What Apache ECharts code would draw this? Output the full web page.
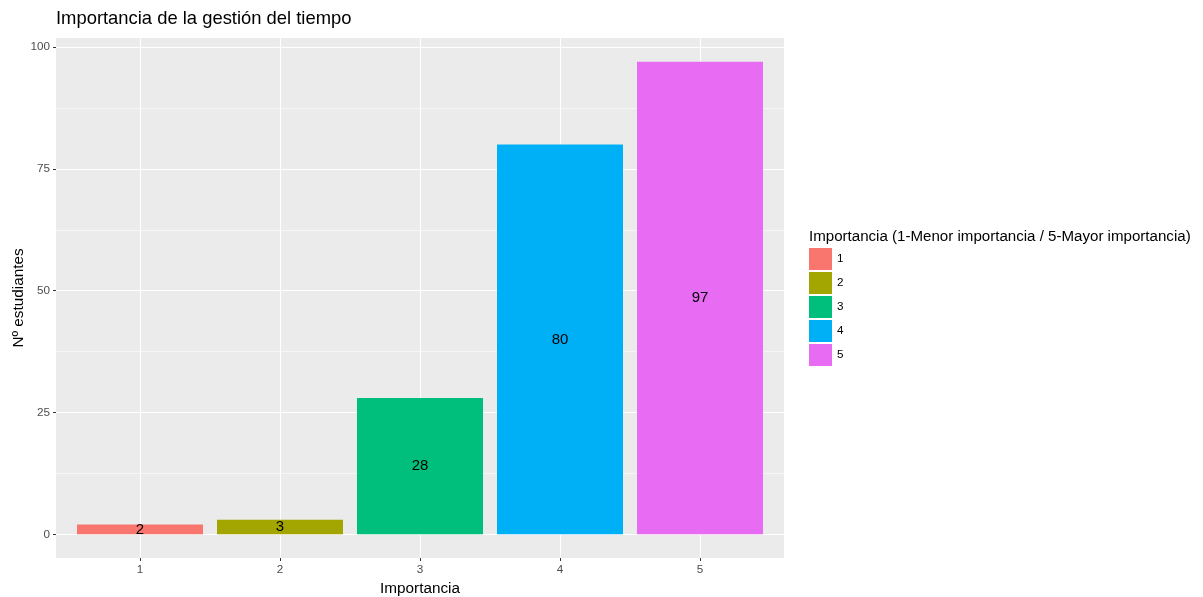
<!DOCTYPE html>
<html>
<head>
<meta charset="utf-8">
<script src="https://cdn.jsdelivr.net/npm/echarts@6/dist/echarts.min.js"></script>
<style>html,body{margin:0;padding:0;background:#fff}#c{width:1203px;height:597px}</style>
</head>
<body>
<div id="c"></div>
<script>
var categories = [1, 2, 3, 4, 5];
var values = [2, 3, 28, 80, 97];
var colors = ['#F8766D', '#A3A500', '#00BF7D', '#00B0F6', '#E76BF3'];
var yTicks = [0, 25, 50, 75, 100];
var yMinor = [12.5, 37.5, 62.5, 87.5];

var chart = echarts.init(document.getElementById('c'));
var font = 'Liberation Sans, Arial, sans-serif';
var series = categories.map(function (c, i) {
  return {
    name: String(c),
    type: 'bar',
    stack: 'all',
    barWidth: 126,
    xAxisIndex: 0,
    yAxisIndex: 0,
    itemStyle: { color: colors[i] },
    label: { show: true, position: 'inside', color: '#000', fontSize: 15, fontFamily: font,
      formatter: function (p) { return p.value[1]; } },
    data: [[c, values[i]]]
  };
});
series.push({ type: 'line', xAxisIndex: 0, yAxisIndex: 1, data: [], silent: true });

chart.setOption({
  animation: false,
  title: [
    { text: 'Importancia de la gestión del tiempo', left: 56, top: 10, padding: 0,
      textStyle: { fontSize: 18.4, fontWeight: 'normal', color: '#000', fontFamily: font } },
    { text: 'Importancia (1-Menor importancia / 5-Mayor importancia)', left: 809, top: 229, padding: 0,
      textStyle: { fontSize: 15.1, fontWeight: 'normal', color: '#000', fontFamily: font } }
  ],
  legend: {
    orient: 'vertical', left: 809, top: 248, padding: 0, itemWidth: 23, itemHeight: 22, itemGap: 2,
    icon: 'rect', data: categories.map(String),
    textStyle: { fontSize: 11.7, color: '#000', fontFamily: font }
  },
  grid: { left: 56, right: 419, top: 38, bottom: 39, show: true, backgroundColor: '#EBEBEB', borderWidth: 0,
    containLabel: false, outerBoundsMode: 'none' },
  xAxis: [{
    type: 'value', min: 0.4, max: 5.6,
    name: 'Importancia', nameLocation: 'middle', nameGap: 23, nameMoveOverlap: false,
    nameTextStyle: { fontSize: 15.3, color: '#000', fontFamily: font },
    axisLine: { show: false, onZero: false },
    axisTick: { show: true, length: 3, customValues: categories, lineStyle: { color: '#333' } },
    axisLabel: { customValues: categories, fontSize: 11.7, color: '#4D4D4D', fontFamily: font, margin: 6 },
    splitLine: { show: true, lineStyle: { color: '#fff', width: 1.1 } }
  }],
  yAxis: [{
    type: 'value', min: -4.85, max: 101.85,
    name: 'Nº estudiantes', nameLocation: 'middle', nameGap: 30, nameRotate: 90, nameMoveOverlap: false,
    nameTextStyle: { fontSize: 15.3, color: '#000', fontFamily: font },
    axisLine: { show: false, onZero: false },
    axisTick: { show: true, length: 3, customValues: yTicks, lineStyle: { color: '#333' } },
    axisLabel: { customValues: yTicks, fontSize: 11.7, color: '#4D4D4D', fontFamily: font, margin: 6 },
    splitLine: { show: true, lineStyle: { color: '#fff', width: 1.1 } }
  }, {
    type: 'value', min: -4.85, max: 101.85, position: 'left',
    axisLine: { show: false, onZero: false }, axisTick: { show: false, customValues: yMinor },
    axisLabel: { show: false, customValues: yMinor },
    splitLine: { show: true, lineStyle: { color: '#fff', width: 0.55 } }
  }],
  series: series
});
</script>
</body>
</html>
